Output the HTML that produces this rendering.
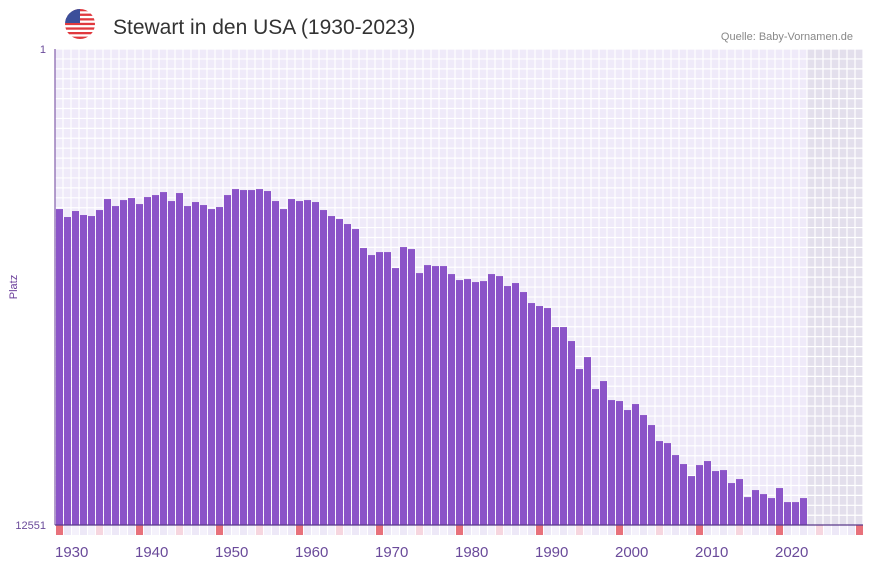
<!DOCTYPE html>
<html><head><meta charset="utf-8"><style>
body{margin:0;background:#fff;font-family:"Liberation Sans",sans-serif;}
svg{display:block}
</style></head><body>
<svg id="c" width="873" height="567">
<g>
<defs><clipPath id="fc"><circle cx="80" cy="24" r="15"/></clipPath></defs>
<g clip-path="url(#fc)">
<rect x="65" y="9" width="30" height="30" fill="#fff"/>
<rect x="65" y="9" width="30" height="2.3" fill="#e0393e"/>
<rect x="65" y="13.6" width="30" height="2.3" fill="#e0393e"/>
<rect x="65" y="18.2" width="30" height="2.3" fill="#e0393e"/>
<rect x="65" y="22.8" width="30" height="2.3" fill="#e0393e"/>
<rect x="65" y="27.4" width="30" height="2.3" fill="#e0393e"/>
<rect x="65" y="32" width="30" height="2.3" fill="#e0393e"/>
<rect x="65" y="36.6" width="30" height="2.4" fill="#e0393e"/>
<rect x="65" y="9" width="15" height="14" fill="#3c4f9a"/>
</g>
<text x="113" y="34" font-size="21" fill="#333">Stewart in den USA (1930-2023)</text>
<text x="853" y="40" font-size="11" fill="#888" text-anchor="end">Quelle: Baby-Vornamen.de</text>
</g>
<g id="plot"></g>
</svg>
<script>
const years=[];for(let y=1930;y<=2023;y++)years.push(y);
const ranks=[4221,4431,4273,4378,4405,4247,3957,4142,3984,3931,4089,3905,3852,3773,4010,3799,4142,4036,4115,4221,4168,3852,3694,3720,3720,3694,3746,4010,4221,3957,4010,3984,4036,4247,4405,4484,4616,4748,5249,5434,5355,5355,5777,5223,5276,5909,5698,5724,5724,5935,6093,6067,6146,6120,5935,5988,6251,6172,6409,6699,6778,6831,7332,7332,7701,8440,8124,8967,8756,9257,9283,9520,9362,9652,9916,10338,10391,10707,10944,11261,10971,10865,11129,11103,11445,11340,11815,11630,11736,11841,11577,11947,11947,11841];
const yTicks=[1,12551];
const xTickYears=[1930,1940,1950,1960,1970,1980,1990,2000,2010,2020];
const NS="http://www.w3.org/2000/svg";
const L=55,T=49,B=525,slot=8,first=1930,lastSlot=2030,minR=1,maxR=12551;
const x=yr=>L+(yr-first)*slot;
const y=r=>T+(r-minR)/(maxR-minR)*(B-T);
const g=document.getElementById('plot');
function el(t,a){const e=document.createElementNS(NS,t);for(const k in a)e.setAttribute(k,a[k]);g.appendChild(e);return e;}
const R=x(lastSlot+1);
let bg=el('rect',{x:L,y:T,width:R-L,height:B-T,fill:'#efeaf9'});


let fut=el('rect',{x:x(2024),y:T,width:R-x(2024),height:B-T,fill:'#e3dfec'});


for(let yr=first;yr<=lastSlot+1;yr++){el('line',{x1:x(yr),x2:x(yr),y1:T,y2:B,stroke:'#fff','stroke-width':1.2});}
for(let yy=T;yy<=B;yy+=9.92){el('line',{x1:L,x2:R,y1:yy,y2:yy,stroke:'#fff','stroke-width':1.2});}
years.forEach((yr,i)=>{
 const b=el('rect',{x:x(yr)+1,y:y(ranks[i]),width:slot-1,height:B-y(ranks[i]),fill:'#8b54c8'});
 
 
});
for(let yr=first;yr<=lastSlot;yr++){
 const c=yr%10==0?'#e8717b':(yr%5==0?'#f6d6df':(yr%2?'#ede8f7':'#f4f1fb'));
 const m=el('rect',{x:x(yr)+1,y:B,width:slot-1,height:10,fill:c});
 
 
}
el('line',{x1:L,x2:L,y1:T,y2:B,stroke:'#6a3d9a','stroke-width':1});
el('line',{x1:L,x2:R,y1:B,y2:B,stroke:'#5a3a8a','stroke-width':1.2});
yTicks.forEach(t=>{
 const tx=el('text',{x:46,y:y(t)+4,'font-size':11,fill:'#6a4a9a','text-anchor':'end'});
 tx.textContent=t;
 
 
});
const yl=el('text',{x:17,y:287,'font-size':11,fill:'#6a3d9a','text-anchor':'middle',transform:'rotate(-90 17 287)'});
yl.textContent='Platz';


xTickYears.forEach(t=>{
 const tx=el('text',{x:x(t),y:557,'font-size':15,fill:'#6a4a9a'});
 tx.textContent=t;
 
 
});
</script>
</body></html>
